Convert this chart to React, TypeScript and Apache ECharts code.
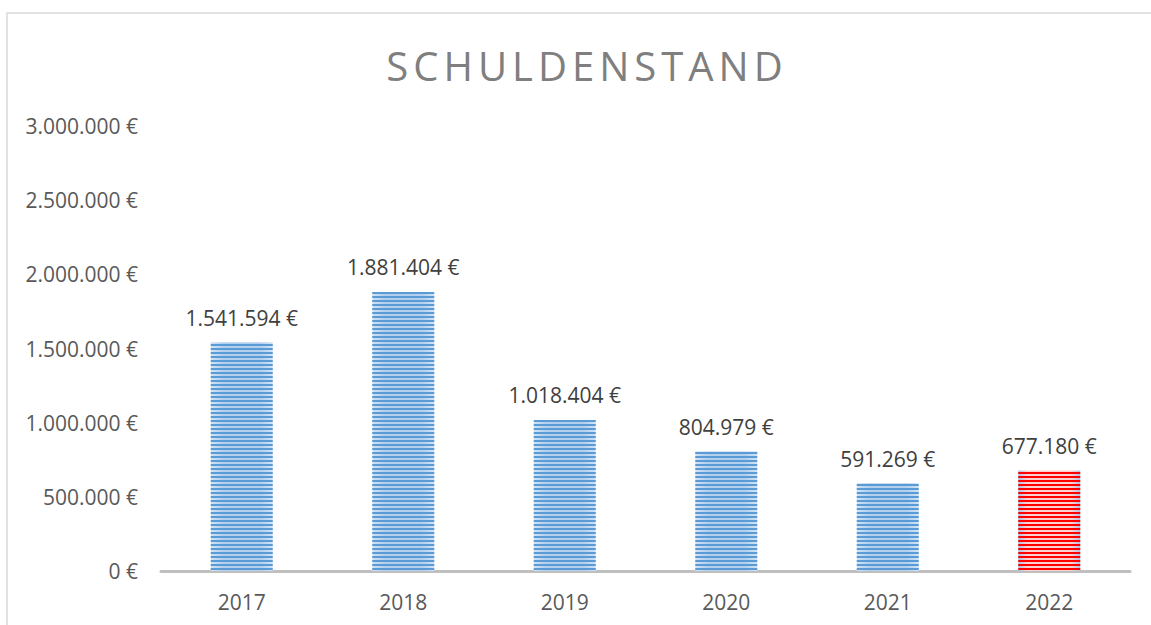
import React, { useEffect, useRef } from "react";
import * as echarts from "echarts";

const TITLE = "SCHULDENSTAND";
const years = ["2017", "2018", "2019", "2020", "2021", "2022"];
const debt = [1541594, 1881404, 1018404, 804979, 591269, 677180];
const highlightIndex = 5;
const yMax = 3000000;
const yInterval = 500000;

function fmt(v: number): string {
  const s = Math.round(v).toString().replace(/\B(?=(\d{3})+(?!\d))/g, ".");
  return s + " €";
}

const blueStyle = {
  color: {
    type: "linear", x: 0, y: 0, x2: 1, y2: 0,
    colorStops: [
      { offset: 0, color: "#d2e3f5" },
      { offset: 0.2, color: "#b3cfee" },
      { offset: 0.8, color: "#b3cfee" },
      { offset: 1, color: "#d2e3f5" },
    ],
  },
  decal: {
    symbol: "rect",
    symbolSize: 1,
    dashArrayX: [1, 0],
    dashArrayY: [2, 1.5],
    rotation: 0,
    color: "#5b9bd5",
  },
};

const redStyle = {
  color: {
    type: "linear", x: 0, y: 0, x2: 1, y2: 0,
    colorStops: [
      { offset: 0, color: "#a9c4ea" },
      { offset: 0.15, color: "#ffd0d0" },
      { offset: 0.85, color: "#ffd0d0" },
      { offset: 1, color: "#a9c4ea" },
    ],
  },
  decal: {
    symbol: "rect",
    symbolSize: 1,
    dashArrayX: [1, 0],
    dashArrayY: [2, 1.5],
    rotation: 0,
    color: "#ff0000",
  },
};

export default function App() {
  const ref = useRef<HTMLDivElement>(null);
  useEffect(() => {
    document.body.style.margin = "0";
    const chart = echarts.init(ref.current!, null, { renderer: "svg" });
    chart.setOption({
      animation: false,
      backgroundColor: "#ffffff",
      title: {
        text: TITLE,
        left: 582,
        textAlign: "center",
        top: 40,
        textStyle: {
          fontFamily: "Open Sans",
          fontSize: 40,
          fontWeight: 400,
          color: "#7f7f7f",
        },
      },
      graphic: [
        {
          type: "rect",
          shape: { x: 7, y: 13, width: 1200, height: 700 },
          style: { fill: "none", stroke: "#d9d9d9", lineWidth: 1.5 },
          silent: true,
          z: -1,
        },
      ],
      grid: { left: 161, right: 21, top: 126, bottom: 54 },
      xAxis: {
        type: "category",
        data: years,
        axisLine: { lineStyle: { color: "#bfbfbf", width: 3 } },
        axisTick: { show: false },
        axisLabel: {
          color: "#595959",
          fontFamily: "Open Sans",
          fontSize: 21,
          margin: 20,
        },
      },
      yAxis: {
        type: "value",
        min: 0,
        max: yMax,
        interval: yInterval,
        splitLine: { show: false },
        axisLine: { show: false },
        axisTick: { show: false },
        axisLabel: {
          color: "#595959",
          fontFamily: "Open Sans",
          fontSize: 21,
          margin: 23,
          formatter: (v: number) => fmt(v),
        },
      },
      series: [
        {
          type: "bar",
          barWidth: 62,
          data: debt.map((v, i) => ({
            value: v,
            itemStyle: i === highlightIndex ? redStyle : blueStyle,
          })),
          label: {
            show: true,
            position: "top",
            distance: 14,
            color: "#404040",
            fontFamily: "Open Sans",
            fontSize: 21,
            formatter: (p: any) => fmt(p.value),
          },
        },
      ],
    });
    return () => chart.dispose();
  }, []);
  return (
    <>
      <style>{`.chart-host text[fill="#7f7f7f"] { letter-spacing: 5px; }`}</style>
      <div className="chart-host" ref={ref} style={{ width: 1151, height: 625 }} />
    </>
  );
}
